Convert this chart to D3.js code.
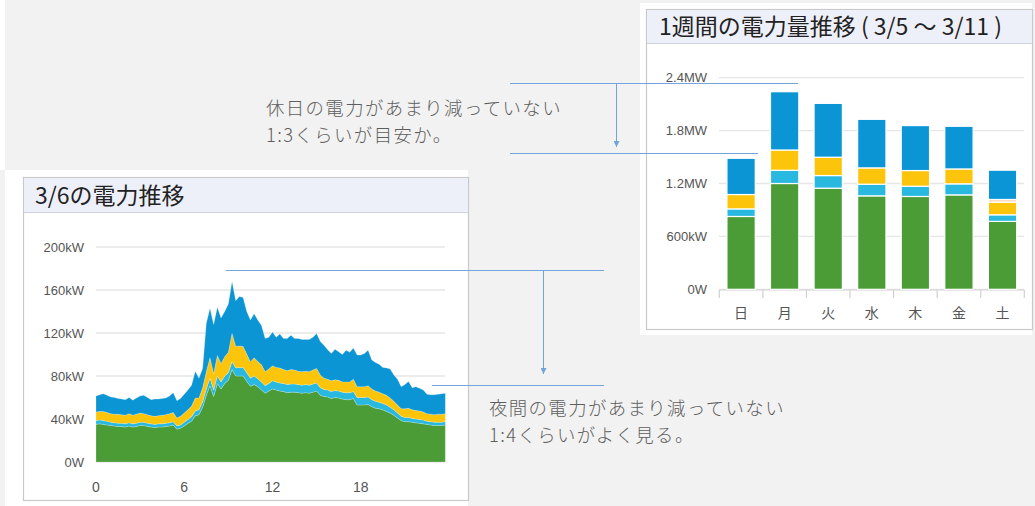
<!DOCTYPE html>
<html><head><meta charset="utf-8">
<script src="https://cdn.jsdelivr.net/npm/d3@7"></script>
<style>html,body{margin:0;padding:0;background:#f2f2f2;overflow:hidden}svg{display:block}</style>
</head><body>
<svg id="c" width="1035" height="506"></svg>
<script>
// ---------- Data: 3/6 (15-minute intervals, kW) ----------
const dayTitle = "3/6の電力推移";
const hourTicks = [0, 6, 12, 18];
const dayYTicks = [0, 40, 80, 120, 160, 200];
const dayYLabels = ["0W", "40kW", "80kW", "120kW", "160kW", "200kW"];
const slotHours = d3.range(0, 24, 0.25);
const dayGreen = [35,35.5,35,34.5,34,33.5,33,33,32.5,33.5,32.5,33,34,34,33,32.5,32,32.5,32.5,33,33.5,34.5,30.5,31.5,
  33.5,36,38,43,44,51,62,71,61,73,68,73,76,86,80,80,80,75,70.5,72,70,67,64,66,
  68,67,66,65.5,64.5,65,65,64.5,64,64.5,64,65,66,62,61,60.5,59,60,59.5,58.5,58,58,59,53,
  53,53,53.5,51.5,50,49.5,48.5,47,45.5,43.5,41,38.5,37.5,37.5,37,36.5,36,35.5,35,34.5,34,34,34,34.5];
const dayCyan = [3.5,3.5,3.5,3.5,3,3,3,3,3,3,3,3,3,3,3,3,3,3,3,3,3,3,3,3,
  3.5,3.5,4,4.5,4.5,5,6,7,6,7,6.5,7,7,7.5,7.5,8,8,8,7.5,8,7.5,7.5,7,7,
  7.5,7.5,7.5,7.5,7.5,7.5,7.5,7.5,7.5,7.5,7.5,7.5,7.5,7,6.5,6.5,6.5,6.5,6.5,6.5,6.5,6.5,6.5,7,
  7,7,7,6.5,6.5,6,6,6,5.5,5,4.5,4,4,4,3.5,3.5,3.5,3.5,3,3,3,3,3,3];
const dayYellow = [8,8,8.5,8,8,8,8.5,8,8,8.5,8,8.5,8.5,8,8,7.5,7.5,7.5,8,8,8.5,8.5,7.5,8,
  8.5,9,10,12,11,13,16,19,15,19,17,18,19,26,20,20,19.5,17.5,15,17,16,16,13,13.5,
  14,13.5,14,13,13,13.5,13,12.5,12.5,12.5,12.5,13,13.5,12,10.5,10,10,10,10,9.5,10,10,11.5,10,
  10,10,10.5,10,9.5,9.5,9,9,8.5,8,7.5,7,8,8.5,8,8,8,7.5,7,7,7,7.5,7.5,7.5];
const dayBlue = [15,15.5,16.5,16,15.5,15.5,14.5,14.5,14.5,15,14,15,16,17,16,15,16,15.5,15.5,15.5,16.5,18.5,16,16.5,
  17.5,18.5,19.5,25,18.5,18,45,46,46,45,42.5,42,45,48.5,42.5,46,45.5,39.5,39,41,38.5,36.5,31,29.5,
  31.5,28,31.5,29,30,32,29.5,30.5,30,29.5,30,30.5,32.5,31,30.5,27.5,25.5,28.5,26.5,25.5,29.5,27.5,29,29.5,
  29.5,31,33,27,26.5,26,24.5,25.5,27,24.5,24,20.5,22.5,25,20.5,22,21,20.5,18,18,18.5,18.5,19,19];

// ---------- Data: week 3/5 - 3/11 (kWh) ----------
const weekTitle = "1週間の電力量推移 ( 3/5 ～ 3/11 )";
const weekDays = ["日", "月", "火", "水", "木", "金", "土"];
const weekGreen  = [826, 1200, 1147, 1060, 1053, 1071, 770];
const weekCyan   = [86, 150, 143, 132, 116, 125, 75];
const weekYellow = [163, 230, 208, 185, 178, 169, 143];
const weekPeach  = [0, 0, 0, 0, 0, 0, 31];
const weekBlue   = [411, 661, 611, 551, 510, 484, 332];
const weekYTicks = [0, 600, 1200, 1800, 2400];
const weekYLabels = ["0W", "600kW", "1.2MW", "1.8MW", "2.4MW"];

const noteHoliday = ["休日の電力があまり減っていない", "1:3くらいが目安か。"];
const noteNight = ["夜間の電力があまり減っていない", "1:4くらいがよく見る。"];

// ---------- Styles ----------
const COLORS = {green: "#4b9c37", cyan: "#28b8e0", yellow: "#fcc40a", peach: "#fbd8b8", blue: "#0b95d5"};
const LATIN = "'Liberation Sans', Arial, sans-serif";
const CJK = "'Noto Sans CJK JP', 'Noto Sans', sans-serif";
const svg = d3.select("#c");

// background
svg.append("rect").attr("width", 1035).attr("height", 506).attr("fill", "#f2f2f2");
svg.append("rect").attr("x", 0).attr("y", 0).attr("width", 5).attr("height", 170).attr("fill", "#ffffff");

// ---------- Left panel ----------
svg.append("rect").attr("x", 5).attr("y", 170).attr("width", 463).attr("height", 336).attr("fill", "#fff");
svg.append("rect").attr("x", 23.5).attr("y", 177.5).attr("width", 445).attr("height", 323)
  .attr("fill", "#fff").attr("stroke", "#c9c9c9").attr("stroke-width", 1.2);
svg.append("rect").attr("x", 24).attr("y", 178).attr("width", 444).attr("height", 34).attr("fill", "#eef0f9");
svg.append("line").attr("x1", 24).attr("x2", 468).attr("y1", 212.5).attr("y2", 212.5).attr("stroke", "#cfd2dc");
svg.append("text").attr("x", 35).attr("y", 203.5).attr("font-family", CJK).attr("font-size", 23)
  .attr("fill", "#222").text(dayTitle);

const xL = d3.scaleLinear().domain([0, 24]).range([96, 449]);
const yL = d3.scaleLinear().domain([0, 200]).range([462, 247]);

const gL = svg.append("g");
gL.selectAll("line.grid").data(dayYTicks).join("line")
  .attr("x1", 96).attr("x2", 445).attr("y1", d => yL(d)).attr("y2", d => yL(d))
  .attr("stroke", "#e6e6e6").attr("stroke-width", 1.3);
gL.selectAll("text.yl").data(dayYTicks).join("text")
  .attr("x", 84).attr("y", d => yL(d) + 4.5).attr("text-anchor", "end")
  .attr("font-family", LATIN).attr("font-size", 13).attr("fill", "#555")
  .text((d, i) => dayYLabels[i]);
gL.selectAll("text.xl").data(hourTicks).join("text")
  .attr("x", d => xL(d)).attr("y", 492).attr("text-anchor", "middle")
  .attr("font-family", LATIN).attr("font-size", 14).attr("fill", "#555").text(d => d);

const dayRows = slotHours.map((h, i) => ({h, green: dayGreen[i], cyan: dayCyan[i], yellow: dayYellow[i], blue: dayBlue[i]}));
const dayKeys = ["green", "cyan", "yellow", "blue"];
const dayStack = d3.stack().keys(dayKeys)(dayRows);
const area = d3.area().x(d => xL(d.data.h)).y0(d => yL(d[0])).y1(d => yL(d[1]));
gL.selectAll("path.layer").data(dayStack).join("path")
  .attr("d", area).attr("fill", d => COLORS[d.key])
  .attr("stroke", "rgba(255,255,255,0.35)").attr("stroke-width", 0.6);

// ---------- Right panel ----------
svg.append("rect").attr("x", 640).attr("y", 3).attr("width", 392).attr("height", 332).attr("fill", "#fff");
svg.append("rect").attr("x", 646.5).attr("y", 9.5).attr("width", 386).attr("height", 320)
  .attr("fill", "#fff").attr("stroke", "#c9c9c9").attr("stroke-width", 1.2);
svg.append("rect").attr("x", 647).attr("y", 10).attr("width", 385).attr("height", 33).attr("fill", "#eef0f9");
svg.append("line").attr("x1", 647).attr("x2", 1032).attr("y1", 43.5).attr("y2", 43.5).attr("stroke", "#cfd2dc");
svg.append("text").attr("x", 659).attr("y", 35).attr("font-family", CJK).attr("font-size", 23)
  .attr("fill", "#222").text(weekTitle);

const xR = d3.scaleBand().domain(weekDays).range([719.3, 1024.3]).paddingInner(0.35).paddingOuter(0.175);
const yR = d3.scaleLinear().domain([0, 2400]).range([289.3, 77.7]);
const gR = svg.append("g");
gR.selectAll("line.grid").data(weekYTicks).join("line")
  .attr("x1", 719).attr("x2", 1024).attr("y1", d => yR(d)).attr("y2", d => yR(d))
  .attr("stroke", "#e6e6e6").attr("stroke-width", 1.3);
gR.selectAll("text.yl").data(weekYTicks).join("text")
  .attr("x", 707).attr("y", d => yR(d) + 4.5).attr("text-anchor", "end")
  .attr("font-family", LATIN).attr("font-size", 13).attr("fill", "#555")
  .text((d, i) => weekYLabels[i]);
// axis baseline & category separators
gR.append("line").attr("x1", 719.3).attr("x2", 1024.3).attr("y1", 290).attr("y2", 290).attr("stroke", "#d0d0d0").attr("stroke-width", 1.2);
const step = xR.step();
const bounds = d3.range(weekDays.length + 1).map(i => 719.3 + i * step);
gR.selectAll("line.tk").data(bounds).join("line")
  .attr("x1", d => d).attr("x2", d => d).attr("y1", 290).attr("y2", 298)
  .attr("stroke", "#d0d0d0").attr("stroke-width", 1.2);
gR.selectAll("text.xl").data(weekDays).join("text")
  .attr("x", d => xR(d) + xR.bandwidth() / 2).attr("y", 318).attr("text-anchor", "middle")
  .attr("font-family", CJK).attr("font-size", 14).attr("fill", "#555").text(d => d);

const weekRows = weekDays.map((d, i) => ({d, green: weekGreen[i], cyan: weekCyan[i], yellow: weekYellow[i], peach: weekPeach[i], blue: weekBlue[i]}));
const weekStack = d3.stack().keys(["green", "cyan", "yellow", "peach", "blue"])(weekRows);
gR.selectAll("g.s").data(weekStack).join("g").attr("fill", d => COLORS[d.key])
  .selectAll("rect").data(d => d.filter(p => p[1] > p[0])).join("rect")
  .attr("x", p => xR(p.data.d)).attr("width", xR.bandwidth())
  .attr("y", p => yR(p[1])).attr("height", p => yR(p[0]) - yR(p[1]))
  .attr("stroke", "#fff").attr("stroke-width", 1.2);

// ---------- Annotations ----------
const LINE = "#72a3da";
const defs = svg.append("defs");
defs.append("marker").attr("id", "arr").attr("viewBox", "0 0 10 10").attr("refX", 10).attr("refY", 5)
  .attr("markerWidth", 6).attr("markerHeight", 6).attr("orient", "auto")
  .append("path").attr("d", "M0,0 L10,5 L0,10 Z").attr("fill", LINE);
const ann = svg.append("g").attr("stroke", LINE).attr("stroke-width", 1);
ann.append("line").attr("x1", 510).attr("x2", 798).attr("y1", 83.5).attr("y2", 83.5);
ann.append("line").attr("x1", 616.5).attr("x2", 616.5).attr("y1", 84).attr("y2", 147).attr("marker-end", "url(#arr)");
ann.append("line").attr("x1", 510).attr("x2", 758).attr("y1", 153.5).attr("y2", 153.5);
ann.append("line").attr("x1", 226).attr("x2", 604).attr("y1", 270.5).attr("y2", 270.5);
ann.append("line").attr("x1", 543.5).attr("x2", 543.5).attr("y1", 271).attr("y2", 374).attr("marker-end", "url(#arr)");
ann.append("line").attr("x1", 432).attr("x2", 604).attr("y1", 385.5).attr("y2", 385.5);

function note(lines, x, y0) {
  svg.append("g").selectAll("text").data(lines).join("text")
    .attr("x", x).attr("y", (d, i) => y0 + i * 27).attr("font-family", CJK).attr("font-size", 18.4)
    .attr("letter-spacing", 1.4).attr("font-weight", 300).attr("fill", "#5e5e5e").text(d => d);
}
note(noteHoliday, 266, 114.5);
note(noteNight, 489, 414.5);
</script>
</body></html>
